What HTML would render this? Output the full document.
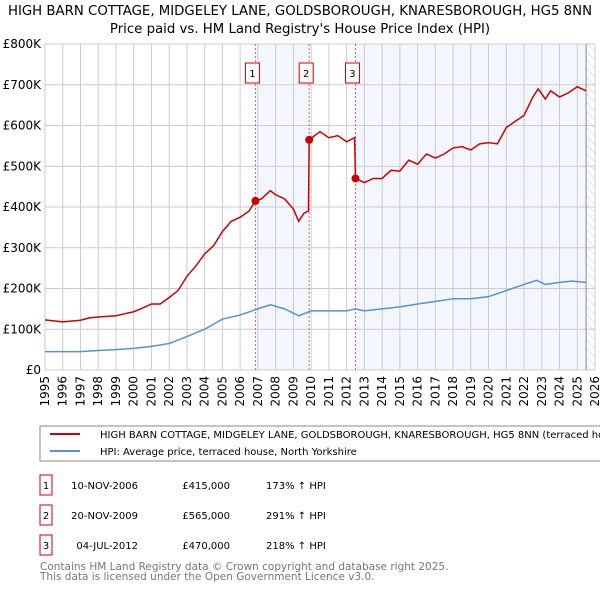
<!DOCTYPE html>
<html><head><meta charset="utf-8"><style>
body{margin:0;width:600px;height:590px;background:#fff;font-family:"Liberation Sans","DejaVu Sans",sans-serif;overflow:hidden}
svg text{font-family:"DejaVu Sans","Liberation Sans",sans-serif}
</style></head><body>
<svg id="c" width="600" height="590" xmlns="http://www.w3.org/2000/svg">
<text x="300" y="15" text-anchor="middle" font-size="13.3">HIGH BARN COTTAGE, MIDGELEY LANE, GOLDSBOROUGH, KNARESBOROUGH, HG5 8NN</text>
<text x="300" y="33" text-anchor="middle" font-size="13.3">Price paid vs. HM Land Registry's House Price Index (HPI)</text>
<defs><pattern id="hatch" width="6" height="6" patternUnits="userSpaceOnUse" patternTransform="rotate(-45)"><line x1="0" y1="0" x2="0" y2="6" stroke="#ccc" stroke-width="1"/></pattern></defs>
<g id="grid"></g><g id="marks"></g><g id="axes"></g>
<rect x="40" y="426" width="570" height="35" fill="#fff" stroke="#888"/>
<line x1="50" y1="434" x2="80" y2="434" stroke="#cc0000" stroke-width="2"/>
<text x="100" y="438" font-size="10">HIGH BARN COTTAGE, MIDGELEY LANE, GOLDSBOROUGH, KNARESBOROUGH, HG5 8NN (terraced house)</text>
<line x1="50" y1="451" x2="80" y2="451" stroke="#5b8fd6" stroke-width="2"/>
<text x="100" y="455" font-size="10">HPI: Average price, terraced house, North Yorkshire</text>
<g font-size="10" id="tbl"></g>
<text x="40" y="570" font-size="10.5" fill="#777">Contains HM Land Registry data © Crown copyright and database right 2025.</text>
<text x="40" y="580" font-size="10.5" fill="#777">This data is licensed under the Open Government Licence v3.0.</text>
</svg>
<script>
const years=[1995,1996,1997,1998,1999,2000,2001,2002,2003,2004,2005,2006,2007,2008,2009,2010,2011,2012,2013,2014,2015,2016,2017,2018,2019,2020,2021,2022,2023,2024,2025,2026];
const yTicks=[0,100,200,300,400,500,600,700,800];
const redT=[1995,1996,1997,1997.5,1998,1999,2000,2000.5,2001,2001.5,2002,2002.5,2003,2003.5,2004,2004.5,2005,2005.5,2006,2006.5,2006.86,2007.2,2007.7,2008,2008.5,2009,2009.3,2009.6,2009.85,2009.89,2010.5,2011,2011.5,2012,2012.45,2012.5,2013,2013.5,2014,2014.5,2015,2015.5,2016,2016.5,2017,2017.5,2018,2018.5,2019,2019.5,2020,2020.5,2021,2021.5,2022,2022.5,2022.8,2023.2,2023.5,2024,2024.5,2025,2025.5];
const redV=[123,118,122,128,130,133,143,152,162,162,178,195,230,255,285,305,340,365,375,390,415,420,440,430,420,395,365,385,390,565,585,570,575,560,570,470,460,470,470,490,488,515,505,530,520,530,545,548,540,555,558,555,595,610,625,670,690,665,685,670,680,695,685];
const blueT=[1995,1997,1998,1999,2000,2001,2002,2003,2004,2005,2006,2007,2007.7,2008.5,2009.3,2010,2011,2012,2012.5,2013,2014,2015,2016,2017,2018,2019,2020,2021,2022,2022.7,2023.2,2024,2024.7,2025.5];
const blueV=[45,45,48,50,53,58,65,82,100,125,135,150,160,150,133,145,145,145,150,145,150,155,162,168,175,175,180,195,210,220,210,215,218,215];
const saleT=[2006.86,2009.89,2012.5];
const saleV=[415,565,470];
const saleLabels=["1","2","3"];
const saleDates=["10-NOV-2006","20-NOV-2009","04-JUL-2012"];
const salePrices=["£415,000","£565,000","£470,000"];
const saleHpi=["173% ↑ HPI","291% ↑ HPI","218% ↑ HPI"];
const X=t=>45+(t-1995)*(550/31), Y=v=>370-v*(326/800);
const NS="http://www.w3.org/2000/svg";
function mk(p,tag,a){const e=document.createElementNS(NS,tag);for(const k in a)e.setAttribute(k,a[k]);p.appendChild(e);return e;}
const g=document.getElementById('grid'),m=document.getElementById('marks'),ax=document.getElementById('axes');
let r=mk(g,'rect',{x:X(saleT[0]),y:Y(800),width:X(saleT[1])-X(saleT[0]),height:Y(0)-Y(800),fill:'#f3f6fd'});


r=mk(g,'rect',{x:X(saleT[2]),y:Y(800),width:X(2025.5)-X(saleT[2]),height:Y(0)-Y(800),fill:'#f3f6fd'});


r=mk(g,'rect',{x:X(2025.5),y:Y(800),width:X(2026)-X(2025.5),height:Y(0)-Y(800),fill:'url(#hatch)'});


years.forEach(y=>{const l=mk(g,'line',{x1:X(y),x2:X(y),y1:Y(800),y2:Y(0),stroke:'#ccc'});


const t=mk(ax,'text',{x:0,y:0,'font-size':12,transform:`translate(${X(y)+4},${Y(0)+6}) rotate(-90)`,'text-anchor':'end'});t.textContent=y;

});
yTicks.forEach(v=>{const l=mk(g,'line',{x1:X(1995),x2:X(2026),y1:Y(v),y2:Y(v),stroke:'#ccc'});


const t=mk(ax,'text',{x:41,y:Y(v)+4,'font-size':12,'text-anchor':'end'});t.textContent=v?('£'+v+'K'):'£0';

});
r=mk(g,'line',{x1:X(2025.5),x2:X(2025.5),y1:Y(800),y2:Y(0),stroke:'#888'});


saleT.forEach((t,i)=>{const l=mk(m,'line',{x1:X(t),x2:X(t),y1:Y(800),y2:Y(0),stroke:'#e06060','stroke-dasharray':'2,2'});


const b=mk(m,'rect',{x:X(t)-10,y:63,width:14,height:20,fill:'#fff',stroke:'#cc0000'});


const tx=mk(m,'text',{x:X(t)-3,y:77,'font-size':10,'text-anchor':'middle'});tx.textContent=saleLabels[i];

});
let p=mk(m,'polyline',{points:blueT.map((t,i)=>X(t)+','+Y(blueV[i])).join(' '),fill:'none',stroke:'#5b8fd6','stroke-width':1.5});


p=mk(m,'polyline',{points:redT.map((t,i)=>X(t)+','+Y(redV[i])).join(' '),fill:'none',stroke:'#cc0000','stroke-width':1.5});


saleT.forEach((t,i)=>{const c=mk(m,'circle',{cx:X(t),cy:Y(saleV[i]),r:4,fill:'#cc0000'});

});
const tb=document.getElementById('tbl');
saleT.forEach((t,i)=>{const y=487+i*30;
const b=mk(tb,'rect',{x:40,y:y-12,width:12,height:20,fill:'#fff',stroke:'#cc0000'});


[[46,saleLabels[i],'middle','label'],[138,saleDates[i],'end','date'],[230,salePrices[i],'end','price'],[266,saleHpi[i],'start','hpi']].forEach(([x,s,a,n])=>{
const e=mk(tb,'text',{x:x,y:y+2,'text-anchor':a});e.textContent=s;

});});
</script>
</body></html>
